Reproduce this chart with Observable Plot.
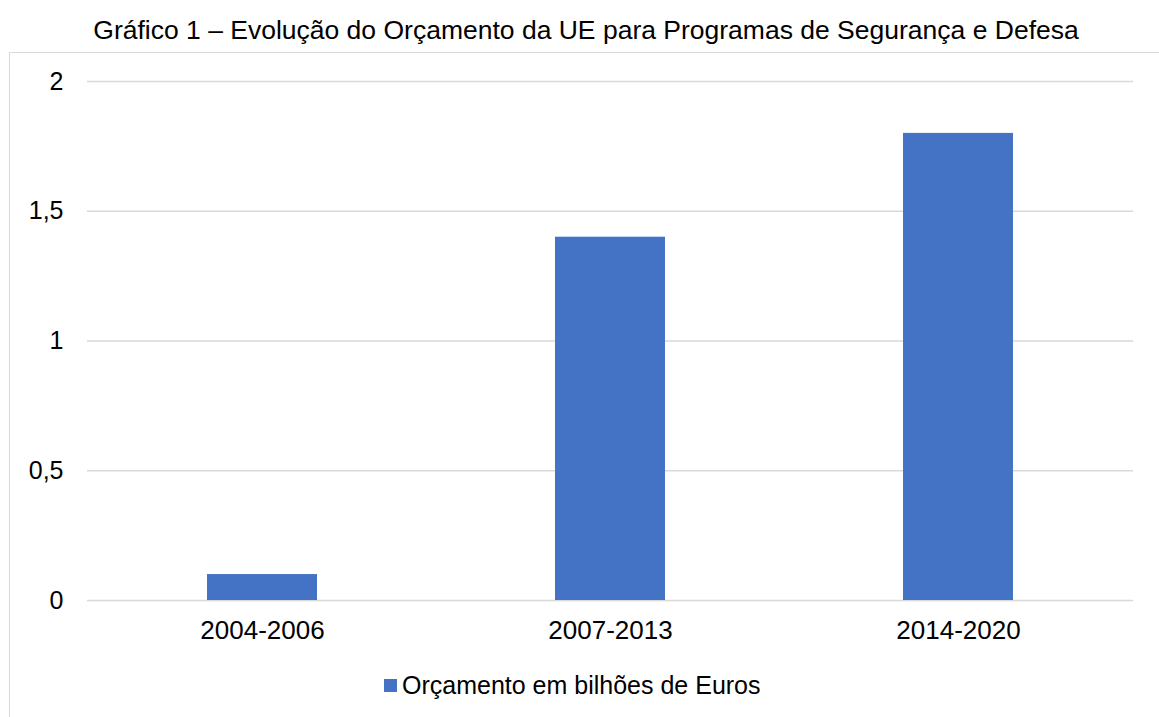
<!DOCTYPE html>
<html>
<head>
<meta charset="utf-8">
<script src="https://cdn.jsdelivr.net/npm/d3@7"></script>
<script src="https://cdn.jsdelivr.net/npm/@observablehq/plot@0.6"></script>
<style>
  body { margin: 0; background: #fff; font-family: "Liberation Sans", Arial, sans-serif; color: #000; }
  #wrap { position: relative; width: 1159px; height: 717px; overflow: hidden; }
  #title { position: absolute; left: 0; top: 14px; width: 1172px; text-align: center; font-size: 26.5px; line-height: 32px; white-space: nowrap; }
  #box { position: absolute; left: 9px; top: 52px; width: 1200px; height: 700px; border-left: 1.5px solid #d9d9d9; border-top: 1.5px solid #d9d9d9; }
  #chart { position: absolute; left: 10px; top: 53px; }
  #legend { position: absolute; left: 384px; top: 670px; display: flex; align-items: center; font-size: 25px; line-height: 30px; white-space: nowrap; }
  #legend .sw { width: 13px; height: 13px; background: #4472C4; margin-right: 5px; }
</style>
</head>
<body>
<div id="wrap">
  <div id="title">Gráfico 1 – Evolução do Orçamento da UE para Programas de Segurança e Defesa</div>
  <div id="box"></div>
  <div id="chart"></div>
  <div id="legend"><div class="sw"></div><span>Orçamento em bilhões de Euros</span></div>
</div>
<script>
const periods = ["2004-2006", "2007-2013", "2014-2020"];
const budget = [0.1, 1.4, 1.8];
const yTicks = [0, 0.5, 1, 1.5, 2];
const seriesName = "Orçamento em bilhões de Euros";

const data = periods.map((p, i) => ({period: p, value: budget[i]}));
const fmt = d => String(d).replace(".", ",");

const chart = Plot.plot({
  width: 1149,
  height: 597,
  marginTop: 28,
  marginBottom: 50,
  marginLeft: 77,
  marginRight: 26,
  style: { fontFamily: "'Liberation Sans', Arial, sans-serif", fontSize: "26px", color: "#000", background: "transparent", overflow: "visible" },
  x: { domain: periods, paddingInner: 0.685, paddingOuter: 0.3425, label: null },
  y: { domain: [0, 2], label: null },
  marks: [
    Plot.ruleY(yTicks, { stroke: "#d9d9d9", strokeWidth: 1.5 }),
    Plot.barY(data, { x: "period", y: "value", fill: "#4472C4" }),
    Plot.axisY(yTicks, { tickSize: 0, tickPadding: 24, tickFormat: fmt, label: null, fontSize: 25 }),
    Plot.axisX({ tickSize: 0, tickPadding: 20, label: null, fontSize: 26 })
  ]
});
document.getElementById("chart").appendChild(chart);
</script>
</body>
</html>
